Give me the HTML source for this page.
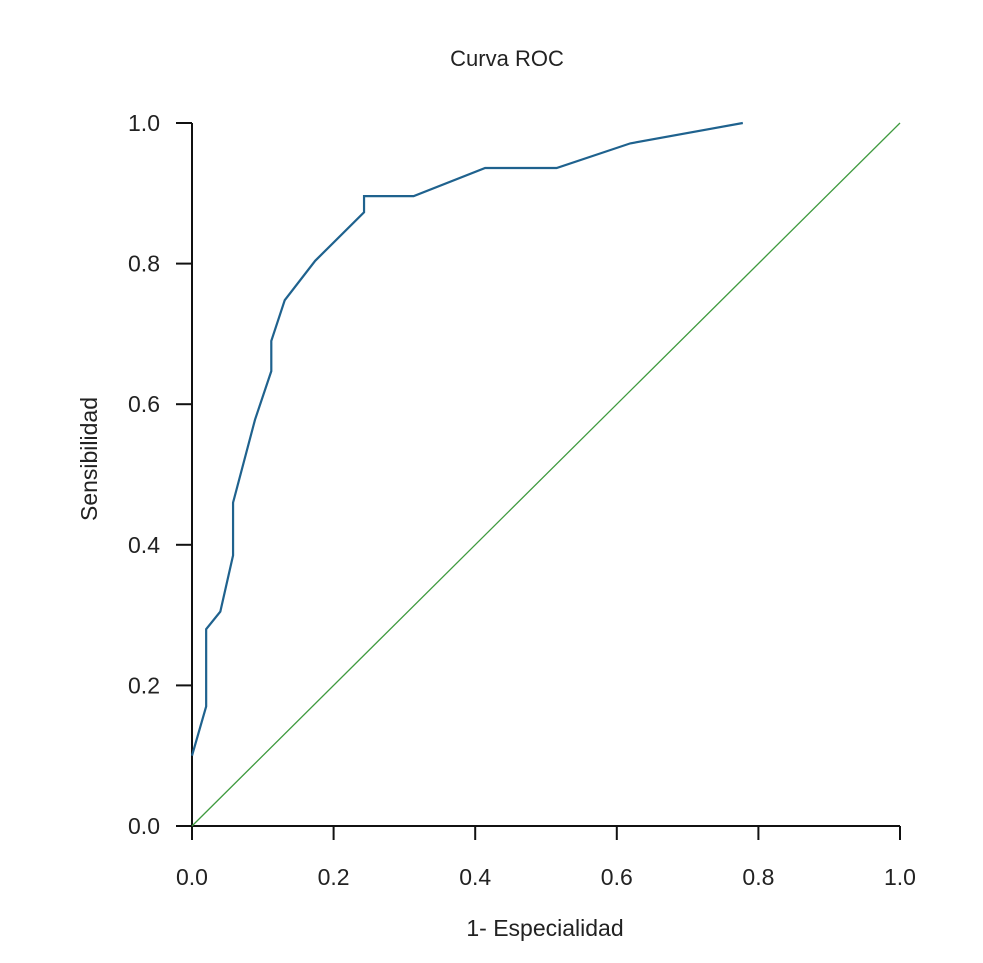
<!DOCTYPE html>
<html><head><meta charset="utf-8"><style>
body{margin:0;background:#fff}
svg text{font-family:"Liberation Sans",sans-serif;fill:#222}
</style></head><body>
<svg id="chart" width="983" height="958" viewBox="0 0 983 958" xmlns="http://www.w3.org/2000/svg">
<text x="507" y="66" font-size="22" text-anchor="middle">Curva ROC</text>
<text x="545" y="936" font-size="23" text-anchor="middle">1- Especialidad</text>
<text transform="translate(97,459) rotate(-90)" font-size="23" text-anchor="middle">Sensibilidad</text>
<g id="axes"></g>
<g id="marks"></g>
</svg>
<script>
const xTicks=[0,0.2,0.4,0.6,0.8,1.0];
const yTicks=[0,0.2,0.4,0.6,0.8,1.0];
const fpr=[0,0.02,0.02,0.04,0.058,0.058,0.089,0.112,0.112,0.131,0.174,0.243,0.243,0.313,0.414,0.515,0.619,0.778];
const tpr=[0.10,0.17,0.28,0.305,0.385,0.46,0.578,0.647,0.69,0.748,0.804,0.873,0.896,0.896,0.936,0.936,0.971,1.0];
const refX=[0,1];
const refY=[0,1];
const NS="http://www.w3.org/2000/svg";
const X=v=>192+v*708, Y=v=>826-v*703;
const axes=document.getElementById('axes'), marks=document.getElementById('marks');
function mk(t,a,p){const e=document.createElementNS(NS,t);for(const k in a)e.setAttribute(k,a[k]);p.appendChild(e);return e;}
let e=mk('line',{x1:192,y1:826,x2:900,y2:826,stroke:'#111','stroke-width':2},axes);


e=mk('line',{x1:192,y1:123,x2:192,y2:826,stroke:'#111','stroke-width':2},axes);


xTicks.forEach(v=>{
 let t=mk('line',{x1:X(v),y1:826,x2:X(v),y2:840,stroke:'#111','stroke-width':2},axes);
 
 
 let l=mk('text',{x:X(v),y:885,'font-size':23,'text-anchor':'middle'},axes);l.textContent=v.toFixed(1);
 
 
});
yTicks.forEach(v=>{
 let t=mk('line',{x1:176,y1:Y(v),x2:192,y2:Y(v),stroke:'#111','stroke-width':2},axes);
 
 
 let l=mk('text',{x:160,y:Y(v)+8,'font-size':23,'text-anchor':'end'},axes);l.textContent=v.toFixed(1);
 
 
});
let r=mk('polyline',{points:refX.map((v,i)=>X(v)+','+Y(refY[i])).join(' '),fill:'none',stroke:'#3f9a3f','stroke-width':1.3},marks);


let c=mk('polyline',{points:fpr.map((v,i)=>X(v)+','+Y(tpr[i])).join(' '),fill:'none',stroke:'#1f628e','stroke-width':2.2,'stroke-linejoin':'miter'},marks);


</script>
</body></html>
